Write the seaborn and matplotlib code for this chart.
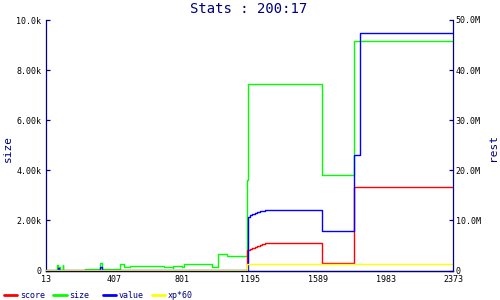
import matplotlib
matplotlib.use("Agg")
import matplotlib.pyplot as plt
import seaborn as sns
import pandas as pd
from matplotlib.lines import Line2D
from matplotlib.ticker import FixedLocator, FixedFormatter

sns.set_style("white")
plt.rcParams["font.family"] = ["DejaVu Sans Mono", "DejaVu Sans"]

# ---- data ----
title = "Stats : 200:17"
x_ticks = [13, 407, 801, 1195, 1589, 1983, 2373]

size_x = [13, 75, 82, 92, 110, 113, 237, 326, 338, 442, 465, 500, 699, 748, 752, 800, 813,
          977, 1012, 1061, 1177, 1186, 1612, 1801, 2373]
size_y = [0, 220, 120, 0, 220, 0, 50, 300, 50, 240, 120, 160, 120, 80, 160, 120, 240,
          120, 640, 570, 3600, 7440, 3800, 9160, 9160]

value_x = [13, 84, 90, 326, 338, 1184, 1197, 1210, 1224, 1238, 1252, 1266, 1280, 1612, 1801, 1836, 2373]
value_y = [0.15, 0.5, 0.15, 0.6, 0.15, 10.7, 11.0, 11.2, 11.4, 11.6, 11.8, 11.9, 12.0, 7.86, 23.0, 47.4, 47.4]

score_x = [13, 1180, 1197, 1210, 1224, 1238, 1252, 1266, 1280, 1612, 1801, 2373]
score_y = [0.0, 4.06, 4.26, 4.46, 4.66, 4.86, 5.06, 5.26, 5.46, 1.4, 16.6, 16.6]

xp_x = [13, 1180, 2373]
xp_y = [0.03, 1.2, 1.2]

left_ticks = [0, 2000, 4000, 6000, 8000, 10000]
left_labels = ["0", "2.00k", "4.00k", "6.00k", "8.00k", "10.0k"]
right_ticks = [0, 10, 20, 30, 40, 50]
right_labels = ["0", "10.0M", "20.0M", "30.0M", "40.0M", "50.0M"]

series_names = ["score", "size", "value", "xp*60"]
series_colors = ["#ff0000", "#00ff00", "#0000ff", "#ffff00"]

NAVY = "#000080"
W, H = 500, 300

fig = plt.figure(figsize=(5, 3), dpi=100)
fig.patch.set_facecolor("white")
L, R, T, B = 46, 453, 20, 270.5
ax = fig.add_axes([L / W, (H - B) / H, (R - L) / W, (B - T) / H])
ax2 = ax.twinx()

df_size = pd.DataFrame({"x": size_x, "y": size_y})
df_value = pd.DataFrame({"x": value_x, "y": value_y})
df_score = pd.DataFrame({"x": score_x, "y": score_y})
df_xp = pd.DataFrame({"x": xp_x, "y": xp_y})

lw = 1.0
sns.lineplot(data=df_size, x="x", y="y", ax=ax, color=series_colors[1], lw=lw,
             drawstyle="steps-post", estimator=None, sort=False)
sns.lineplot(data=df_score, x="x", y="y", ax=ax2, color=series_colors[0], lw=lw,
             drawstyle="steps-post", estimator=None, sort=False)
sns.lineplot(data=df_value, x="x", y="y", ax=ax2, color=series_colors[2], lw=lw,
             drawstyle="steps-post", estimator=None, sort=False)
sns.lineplot(data=df_xp, x="x", y="y", ax=ax2, color=series_colors[3], lw=lw,
             drawstyle="steps-post", estimator=None, sort=False)

ax.set_xlim(13, 2373)
ax.set_ylim(0, 10000)
ax2.set_ylim(0, 50)

for a in (ax, ax2):
    a.set_xlabel("")
    a.set_ylabel("")
    for s in a.spines.values():
        s.set_color(NAVY)
        s.set_linewidth(0.9)
    a.spines["top"].set_visible(False)
    a.patch.set_alpha(0)

ax.spines["right"].set_visible(False)
ax2.spines["left"].set_visible(False)

ax.xaxis.set_major_locator(FixedLocator(x_ticks))
ax.xaxis.set_major_formatter(FixedFormatter([str(v) for v in x_ticks]))
ax.yaxis.set_major_locator(FixedLocator(left_ticks))
ax.yaxis.set_major_formatter(FixedFormatter(left_labels))
ax2.yaxis.set_major_locator(FixedLocator(right_ticks))
ax2.yaxis.set_major_formatter(FixedFormatter(right_labels))

tick_kw = dict(direction="in", length=3, width=0.9, color=NAVY, labelcolor="black", labelsize=6)
ax.tick_params(axis="x", pad=3.5, **tick_kw)
ax.tick_params(axis="y", pad=3.5, **tick_kw)
ax2.tick_params(axis="y", pad=2, **tick_kw)

ax.set_ylabel("size", color=NAVY, fontsize=8)
ax.yaxis.set_label_coords((13 - L) / (R - L), (B - 148) / (B - T))
ax2.set_ylabel("rest", color=NAVY, fontsize=8, rotation=90)
ax2.yaxis.set_label_coords((488 - L) / (R - L), (B - 148) / (B - T))

fig.text(249 / W, 1 - 9 / H, title, ha="center", va="center", color=NAVY, fontsize=10)

# legend: four fixed-width entries along the bottom
for i, (name, col) in enumerate(zip(series_names, series_colors)):
    h = Line2D([], [], color=col, lw=2)
    fig.legend([h], [name], loc="center left",
               bbox_to_anchor=((4 + 49.3 * i) / W, 1 - 295 / H),
               frameon=False, borderpad=0, borderaxespad=0,
               handlelength=1.6, handletextpad=0.35,
               prop={"family": "DejaVu Sans Mono", "size": 6},
               labelcolor=NAVY)

fig.savefig("out.png", dpi=100, facecolor="white")
